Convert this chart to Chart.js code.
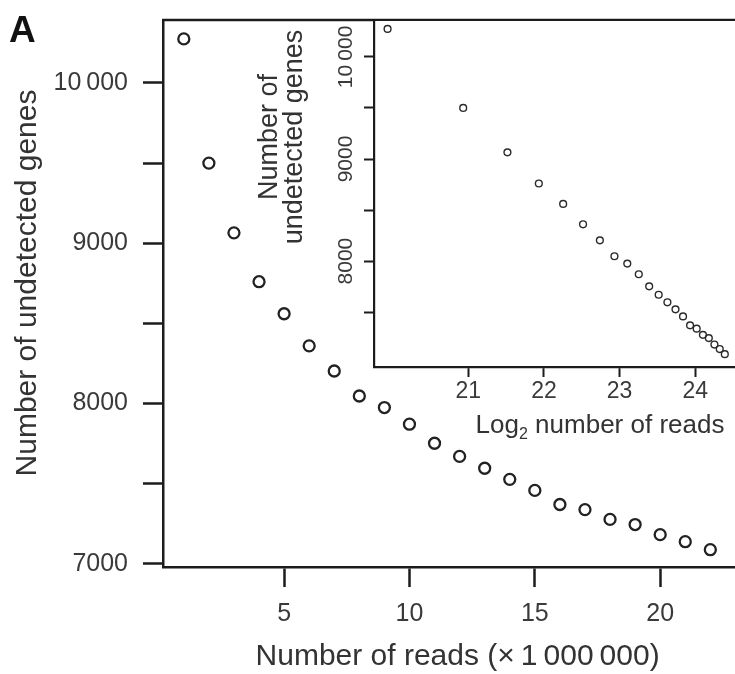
<!DOCTYPE html>
<html>
<head>
<meta charset="utf-8">
<script src="https://cdn.jsdelivr.net/npm/chart.js@4.4.1/dist/chart.umd.min.js"></script>
<style>
  html, body { margin: 0; padding: 0; background: #fff; overflow: hidden; }
  #wrap { position: relative; width: 735px; height: 674px; overflow: hidden; }
  #main { position: absolute; left: 0; top: 0; }
  #inset { position: absolute; left: 240px; top: 0; }
</style>
</head>
<body>
<div id="wrap">
  <canvas id="main" width="760" height="674"></canvas>
  <canvas id="inset" width="520" height="450"></canvas>
</div>
<script>
// reads per sample, in millions
var readsMillions = [1, 2, 3, 4, 5, 6, 7, 8, 9, 10, 11, 12, 13, 14, 15, 16, 17, 18, 19, 20, 21, 22];
// genes left undetected at that depth
var undetectedGenes = [10275, 9500, 9065, 8760, 8560, 8360, 8203, 8047, 7975, 7871, 7752, 7670, 7596, 7527, 7458, 7370, 7338, 7277, 7245, 7182, 7138, 7088];

var mainXTicks = [5, 10, 15, 20];
var mainYTicks = [7000, 7500, 8000, 8500, 9000, 9500, 10000];
var insetXTicks = [21, 22, 23, 24];
var insetYTicks = [7500, 8000, 8500, 9000, 9500, 10000];

var FONT = '"Liberation Sans", Arial, Helvetica, sans-serif';
var INK = '#1c1c1c';
var TEXT = '#3a3a3a';

function fmt(v) {
  if (v % 1000 !== 0) return '';
  return v >= 10000 ? (v / 1000 | 0) + '\u2009000' : String(v);
}

// keep the plot box exactly where the layout puts it
function noEdgePadding(s) {
  s.paddingTop = 0; s.paddingBottom = 0; s.paddingLeft = 0; s.paddingRight = 0;
}

var mainPoints = readsMillions.map(function(r, i) { return {x: r, y: undetectedGenes[i]}; });
var insetPoints = readsMillions.map(function(r, i) { return {x: Math.log2(r * 1e6), y: undetectedGenes[i]}; });

// top edge of the box, the y title and the panel letter
var mainFrame = {
  id: 'mainFrame',
  afterDraw: function(chart) {
    var a = chart.chartArea, ctx = chart.ctx;
    ctx.save();
    ctx.strokeStyle = INK;
    ctx.lineWidth = 2.5;
    ctx.beginPath();
    ctx.moveTo(a.left - 1, a.top);
    ctx.lineTo(a.right, a.top);
    ctx.stroke();

    ctx.fillStyle = '#333';
    ctx.font = '30px ' + FONT;
    ctx.textAlign = 'center';
    ctx.textBaseline = 'middle';
    ctx.save();
    ctx.translate(28, 283);
    ctx.rotate(-Math.PI / 2);
    ctx.fillText('Number of undetected genes', 0, 0);
    ctx.restore();

    ctx.fillStyle = '#111';
    ctx.font = 'bold 37px ' + FONT;
    ctx.textAlign = 'left';
    ctx.textBaseline = 'alphabetic';
    ctx.fillText('A', 9, 42);
    ctx.restore();
  }
};

new Chart(document.getElementById('main'), {
  type: 'scatter',
  data: {
    datasets: [{
      data: mainPoints,
      pointStyle: 'circle',
      pointRadius: 5.5,
      pointBorderWidth: 2.3,
      borderColor: '#222',
      backgroundColor: 'rgba(0,0,0,0)'
    }]
  },
  options: {
    responsive: false,
    animation: false,
    events: [],
    layout: { padding: { top: 20, left: 0, right: 0, bottom: 0 } },
    plugins: { legend: { display: false }, tooltip: { enabled: false } },
    scales: {
      x: {
        type: 'linear',
        min: 0.17,
        max: 23.67,
        afterBuildTicks: function(s) { s.ticks = mainXTicks.map(function(v) { return {value: v}; }); },
        afterFit: function(s) { s.height = 107; noEdgePadding(s); },
        grid: { drawOnChartArea: false, tickLength: 20, tickColor: INK, tickWidth: 2.5 },
        border: { color: INK, width: 2.5 },
        ticks: { color: TEXT, font: { family: FONT, size: 25 }, padding: 12, maxRotation: 0 },
        title: {
          display: true,
          text: 'Number of reads (\u00d7\u20091\u2009000\u2009000)',
          color: '#333',
          font: { family: FONT, size: 30, lineHeight: 1 },
          padding: { top: 0, bottom: 2 }
        }
      },
      y: {
        type: 'linear',
        min: 6980,
        max: 10393,
        afterBuildTicks: function(s) { s.ticks = mainYTicks.map(function(v) { return {value: v}; }); },
        afterFit: function(s) { s.width = 163; noEdgePadding(s); },
        grid: { drawOnChartArea: false, tickLength: 20, tickColor: INK, tickWidth: 2.5 },
        border: { color: INK, width: 2.5 },
        ticks: { color: TEXT, font: { family: FONT, size: 25 }, padding: 15, callback: fmt }
      }
    }
  },
  plugins: [mainFrame]
});

// white panel behind the inset, its top edge, rotated tick labels and both titles
var insetFrame = {
  id: 'insetFrame',
  beforeDraw: function(chart) {
    var a = chart.chartArea, ctx = chart.ctx;
    ctx.save();
    ctx.fillStyle = '#fff';
    ctx.fillRect(a.left, a.top, a.right - a.left, a.bottom - a.top);
    ctx.restore();
  },
  afterDraw: function(chart) {
    var a = chart.chartArea, ctx = chart.ctx, y = chart.scales.y;
    ctx.save();
    ctx.strokeStyle = INK;
    ctx.lineWidth = 2.2;
    ctx.beginPath();
    ctx.moveTo(a.left - 1, a.top);
    ctx.lineTo(a.right, a.top);
    ctx.stroke();

    ctx.fillStyle = TEXT;
    ctx.font = '21px ' + FONT;
    ctx.textAlign = 'center';
    ctx.textBaseline = 'middle';
    y.ticks.forEach(function(t) {
      var label = fmt(t.value);
      if (!label) return;
      ctx.save();
      ctx.translate(a.left - 28, y.getPixelForValue(t.value));
      ctx.rotate(-Math.PI / 2);
      ctx.fillText(label, 0, 0);
      ctx.restore();
    });

    // y title, two lines, read bottom to top
    ctx.fillStyle = '#333';
    ctx.font = '27px ' + FONT;
    ctx.save();
    ctx.translate(30, 137);
    ctx.rotate(-Math.PI / 2);
    ctx.fillText('Number of', 0, 0);
    ctx.fillText('undetected genes', 0, 25);
    ctx.restore();

    // Log2 number of reads, with a real subscript
    var big = '26px ' + FONT, small = '16px ' + FONT;
    ctx.font = big;
    var w1 = ctx.measureText('Log').width;
    var w3 = ctx.measureText(' number of reads').width;
    ctx.font = small;
    var w2 = ctx.measureText('2').width;
    var x0 = 360 - (w1 + w2 + w3) / 2, base = 433;
    ctx.textAlign = 'left';
    ctx.textBaseline = 'alphabetic';
    ctx.font = big;
    ctx.fillText('Log', x0, base);
    ctx.font = small;
    ctx.fillText('2', x0 + w1, base + 6);
    ctx.font = big;
    ctx.fillText(' number of reads', x0 + w1 + w2, base);
    ctx.restore();
  }
};

new Chart(document.getElementById('inset'), {
  type: 'scatter',
  data: {
    datasets: [{
      data: insetPoints,
      pointStyle: 'circle',
      pointRadius: 3.4,
      pointBorderWidth: 1.4,
      borderColor: '#2a2a2a',
      backgroundColor: 'rgba(0,0,0,0)'
    }]
  },
  options: {
    responsive: false,
    animation: false,
    events: [],
    layout: { padding: { top: 20, left: 0, right: 0, bottom: 0 } },
    plugins: { legend: { display: false }, tooltip: { enabled: false } },
    scales: {
      x: {
        type: 'linear',
        min: 19.752,
        max: 24.785,
        afterBuildTicks: function(s) { s.ticks = insetXTicks.map(function(v) { return {value: v}; }); },
        afterFit: function(s) { s.height = 83; noEdgePadding(s); },
        grid: { drawOnChartArea: false, tickLength: 10, tickColor: INK, tickWidth: 2 },
        border: { color: INK, width: 2.2 },
        ticks: { color: TEXT, font: { family: FONT, size: 23 }, padding: 1, maxRotation: 0 }
      },
      y: {
        type: 'linear',
        min: 6962,
        max: 10362,
        afterBuildTicks: function(s) { s.ticks = insetYTicks.map(function(v) { return {value: v}; }); },
        afterFit: function(s) { s.width = 134; noEdgePadding(s); },
        grid: { drawOnChartArea: false, tickLength: 10, tickColor: INK, tickWidth: 2 },
        border: { color: INK, width: 2.2 },
        ticks: { display: false }
      }
    }
  },
  plugins: [insetFrame]
});
</script>
</body>
</html>
